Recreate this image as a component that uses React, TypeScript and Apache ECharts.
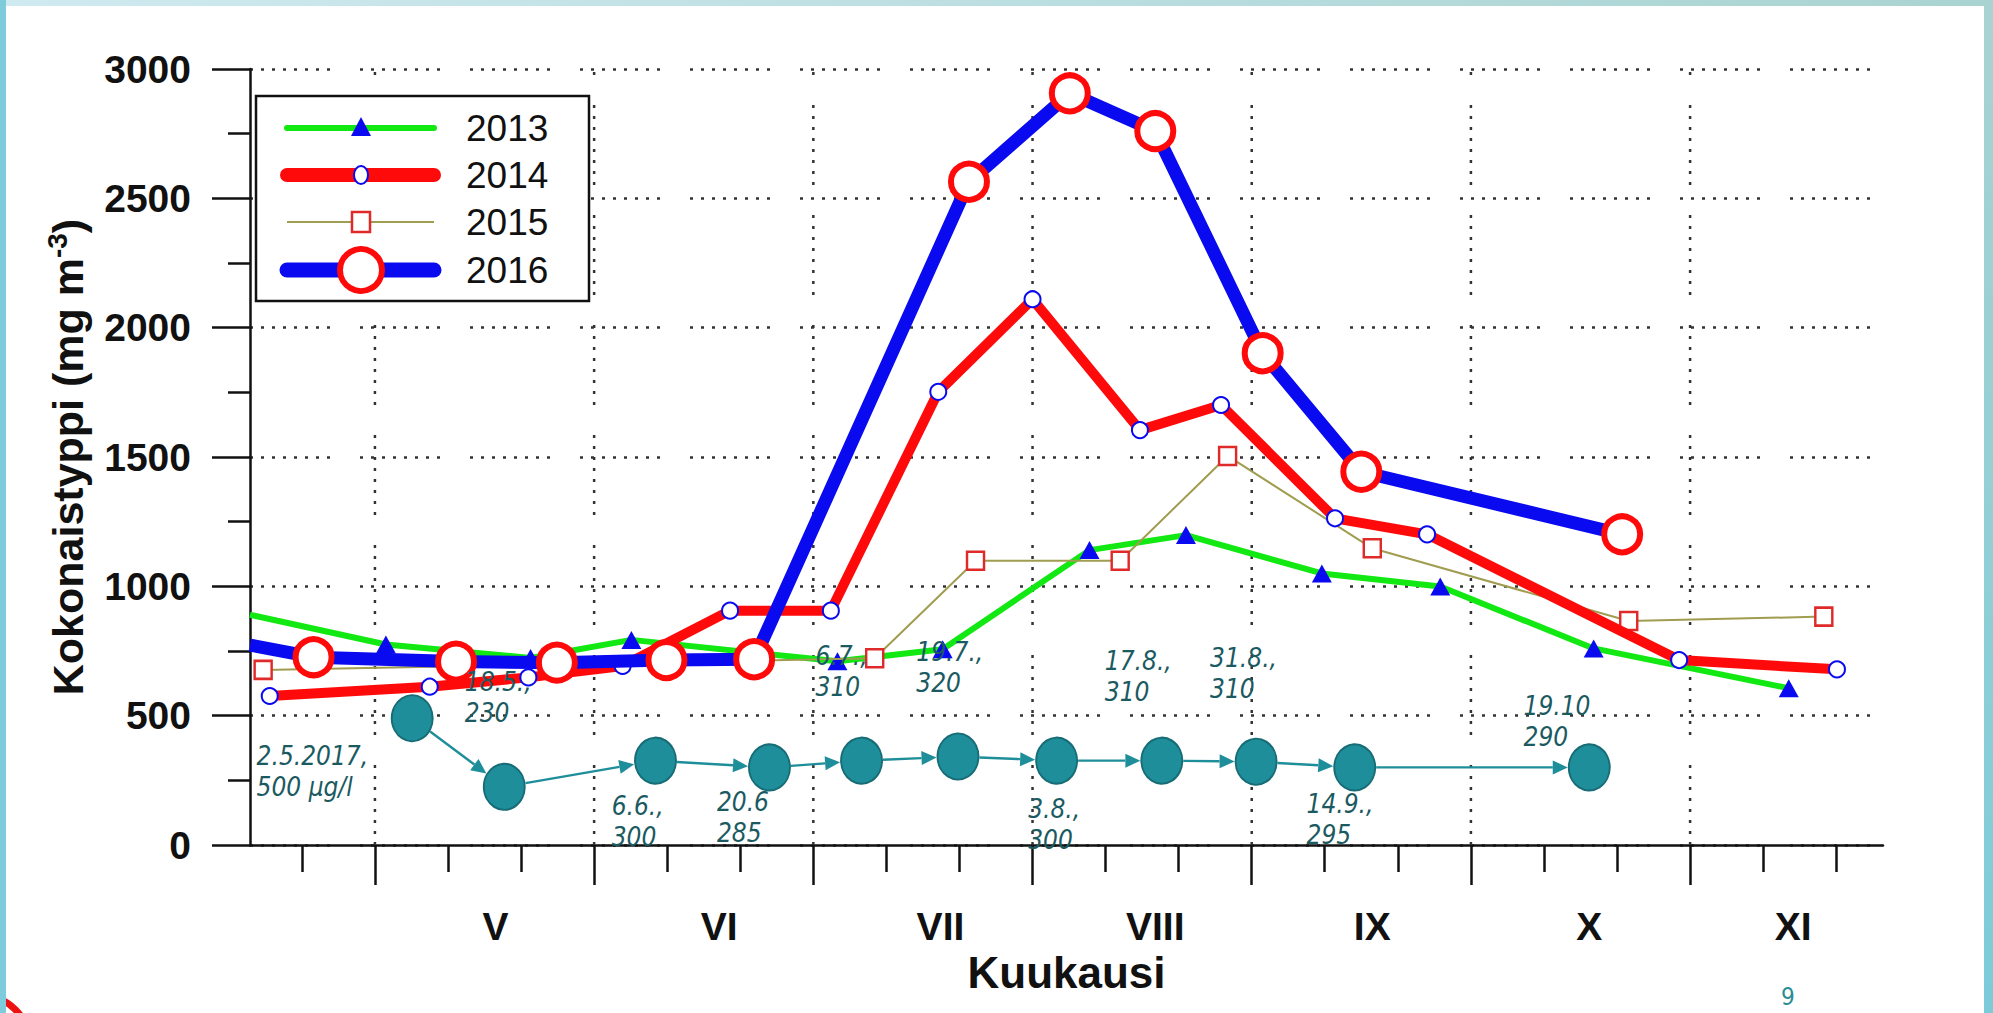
import React, { useEffect, useRef } from 'react';
import * as echarts from 'echarts';

const W = 1993;
const H = 1013;
const SANS = '"Liberation Sans", Arial, Helvetica, sans-serif';
const NARROW = '"Liberation Sans Narrow", "DejaVu Sans Condensed", "Noto Sans", sans-serif';

// x axis in "month units": 5 = 1 May, 6 = 1 June, ...
const X_MIN = 4.43;
const X_MAX = 11.88;
const monthStarts = [5, 6, 7, 8, 9, 10, 11];
const monthLabels = ['V', 'VI', 'VII', 'VIII', 'IX', 'X', 'XI'];
const monthLabelPos = [5.55, 6.57, 7.58, 8.56, 9.55, 10.54, 11.47];
const minorTicks = [4.667, 5.333, 5.667, 6.333, 6.667, 7.333, 7.667, 8.333, 8.667, 9.333, 9.667, 10.333, 10.667, 11.333, 11.667];

const Y_MIN = 0;
const Y_MAX = 3000;
const Y_INTERVAL = 500;

// series [month, value]
const s2013 = [[4.43, 890], [5.05, 775], [5.71, 723], [6.17, 793], [7.11, 710], [7.59, 757], [8.26, 1140], [8.70, 1198], [9.32, 1050], [9.86, 999], [10.56, 760], [11.45, 606]];
const s2014 = [[4.52, 576], [5.25, 612], [5.70, 648], [6.13, 692], [6.62, 906], [7.08, 906], [7.57, 1752], [8.00, 2110], [8.49, 1604], [8.86, 1701], [9.38, 1263], [9.80, 1201], [10.95, 715], [11.67, 679]];
const s2015 = [[4.49, 677], [7.28, 722], [7.74, 1099], [8.40, 1099], [8.89, 1504], [9.55, 1147], [10.72, 866], [11.61, 883]];
const s2016 = [[4.43, 773], [4.72, 726], [5.37, 709], [5.83, 705], [6.33, 715], [6.73, 718], [7.71, 2564], [8.17, 2906], [8.56, 2760], [9.05, 1901], [9.50, 1443], [10.69, 1201]];
// 2017 measurements (teal bubbles)
const s2017 = [[5.17, 490], [5.59, 225], [6.28, 326], [6.80, 300], [7.22, 326], [7.66, 342], [8.11, 326], [8.59, 326], [9.02, 322], [9.47, 300], [10.54, 300]];
// annotation texts, anchored at their top-left corner in data units
const noteX = [4.46, 5.41, 6.08, 6.56, 7.01, 7.47, 8.33, 8.81, 7.98, 9.25, 10.24];
const noteY = [405, 690, 210, 225, 790, 806, 770, 782, 198, 217, 598];
const noteText = ['2.5.2017,\n500 µg/l', '18.5.,\n230', '6.6.,\n300', '20.6\n285', '6.7.,\n310', '19.7.,\n320', '17.8.,\n310', '31.8.,\n310', '3.8.,\n300', '14.9.,\n295', '19.10\n290'];

const legendNames = ['2013', '2014', '2015', '2016'];

const GREEN = '#12e812';
const RED = '#ff0a0a';
const BLUE = '#0a0af0';
const OLIVE = '#a09c50';
const SQ_RED = '#e02a2a';
const TEAL = '#1e8e9a';
const TEAL_DARK = '#176c76';
const NOTE = '#1b5a61';
const DOTS = [3, 8, 3, 8, 3, 8, 3, 8, 3, 8, 3, 8, 3, 8, 3, 30];

const BW = 41; // bubble width
const BH = 46; // bubble height

function ellipseR(ux: number, uy: number) {
  const a = BW / 2 + 1;
  const b = BH / 2 + 1;
  return (a * b) / Math.sqrt((b * ux) * (b * ux) + (a * uy) * (a * uy));
}

function monthLabelFor(v: number) {
  let best = 0;
  let bd = Infinity;
  monthLabelPos.forEach((p, i) => {
    const d = Math.abs(p - v);
    if (d < bd) { bd = d; best = i; }
  });
  return monthLabels[best];
}

export default function App() {
  const ref = useRef<HTMLDivElement>(null);

  useEffect(() => {
    document.body.style.margin = '0';
    document.body.style.overflow = 'hidden';
    const chart = echarts.init(ref.current as HTMLDivElement, null, { renderer: 'svg' });

    const arrows = s2017.slice(0, -1).map((p, i) => [p[0], p[1], s2017[i + 1][0], s2017[i + 1][1]]);
    const notes = noteX.map((x, i) => [x, noteY[i], i]);

    const legendY = [128, 175, 222, 270];
    const lx1 = 287;
    const lx2 = 434;
    const lmx = 361;
    const legendGraphics: any[] = [
      { type: 'rect', shape: { x: 256, y: 96, width: 333, height: 205 }, style: { fill: '#fff', stroke: '#111', lineWidth: 2.5 }, z: 100 },
      // 2013
      { type: 'line', shape: { x1: lx1, y1: legendY[0], x2: lx2, y2: legendY[0] }, style: { stroke: GREEN, lineWidth: 6, lineCap: 'round' }, z: 101 },
      { type: 'polygon', shape: { points: [[lmx, legendY[0] - 11], [lmx - 10, legendY[0] + 8], [lmx + 10, legendY[0] + 8]] }, style: { fill: BLUE }, z: 102 },
      // 2014
      { type: 'line', shape: { x1: lx1, y1: legendY[1], x2: lx2, y2: legendY[1] }, style: { stroke: RED, lineWidth: 14, lineCap: 'round' }, z: 101 },
      { type: 'ellipse', shape: { cx: lmx, cy: legendY[1], rx: 7, ry: 9 }, style: { fill: '#fff', stroke: BLUE, lineWidth: 2 }, z: 102 },
      // 2015
      { type: 'line', shape: { x1: lx1, y1: legendY[2], x2: lx2, y2: legendY[2] }, style: { stroke: OLIVE, lineWidth: 2 }, z: 101 },
      { type: 'rect', shape: { x: lmx - 9, y: legendY[2] - 10, width: 18, height: 20 }, style: { fill: '#fff', stroke: SQ_RED, lineWidth: 2.5 }, z: 102 },
      // 2016
      { type: 'line', shape: { x1: lx1, y1: legendY[3], x2: lx2, y2: legendY[3] }, style: { stroke: BLUE, lineWidth: 15, lineCap: 'round' }, z: 101 },
      { type: 'circle', shape: { cx: lmx, cy: legendY[3], r: 21 }, style: { fill: '#fff', stroke: RED, lineWidth: 6 }, z: 102 },
    ];
    legendNames.forEach((n, i) => {
      legendGraphics.push({
        type: 'text', x: 466, y: legendY[i], z: 103,
        style: { text: n, fill: '#111', fontSize: 37, fontFamily: SANS, align: 'left', verticalAlign: 'middle' },
      });
    });

    const frame: any[] = [
      { type: 'rect', shape: { x: 0, y: 0, width: W, height: 6 }, style: { fill: new echarts.graphic.LinearGradient(0, 0, 1, 0, [{ offset: 0, color: '#cfeaf0' }, { offset: 1, color: '#a9d3d1' }]) }, z: 200 },
      { type: 'rect', shape: { x: 0, y: 0, width: 6, height: H }, style: { fill: '#7ecbdc' }, z: 200 },
      { type: 'rect', shape: { x: 1984, y: 0, width: 9, height: H }, style: { fill: new echarts.graphic.LinearGradient(0, 0, 0, 1, [{ offset: 0, color: '#a9d3d1' }, { offset: 1, color: '#7ccbd9' }]) }, z: 200 },
      { type: 'arc', shape: { cx: -20, cy: 1045, r: 50, startAngle: -Math.PI / 2, endAngle: 0 }, style: { stroke: '#ee1111', lineWidth: 7, fill: 'none' }, z: 199 },
      { type: 'text', x: 1781, y: 985, style: { text: '9', fill: '#2a8c95', fontSize: 24, fontFamily: NARROW, align: 'left', verticalAlign: 'top' }, z: 200 },
    ];

    const option: any = {
      animation: false,
      backgroundColor: '#ffffff',
      grid: { left: 250, right: 110, top: 69, bottom: 168, containLabel: false },
      xAxis: [
        {
          type: 'value', min: X_MIN, max: X_MAX, position: 'bottom',
          axisLine: { show: true, onZero: false, lineStyle: { color: '#111', width: 2.5 } },
          axisTick: { show: true, inside: false, length: 40, customValues: monthStarts, lineStyle: { color: '#111', width: 2.5 } },
          axisLabel: {
            show: true, customValues: monthLabelPos, margin: 62,
            formatter: (v: number) => monthLabelFor(v),
            fontSize: 39, fontWeight: 'bold', color: '#111', fontFamily: SANS,
          },
          splitLine: { show: false },
          name: 'Kuukausi', nameLocation: 'middle', nameGap: 104,
          nameTextStyle: { fontSize: 44, fontWeight: 'bold', color: '#111', fontFamily: SANS },
        },
        {
          type: 'value', min: X_MIN, max: X_MAX, position: 'bottom', offset: 0,
          axisLine: { show: false, onZero: false },
          axisTick: { show: true, inside: false, length: 27, customValues: minorTicks, lineStyle: { color: '#111', width: 2.5 } },
          axisLabel: { show: false },
          splitLine: { show: false },
        },
      ],
      yAxis: {
        type: 'value', min: Y_MIN, max: Y_MAX, interval: Y_INTERVAL,
        axisLine: { show: true, onZero: false, lineStyle: { color: '#111', width: 2.5 } },
        axisTick: { show: true, length: 38, lineStyle: { color: '#111', width: 2.5 } },
        minorTick: { show: true, splitNumber: 2, length: 22, lineStyle: { color: '#111', width: 2.5 } },
        axisLabel: {
          margin: 59, fontSize: 39, fontWeight: 'bold', color: '#111', fontFamily: SANS,
          formatter: (v: number) => String(Math.round(v)),
        },
        splitLine: { show: true, lineStyle: { color: '#333', width: 2.5, type: DOTS } },
        name: 'Kokonaistyppi (mg m{sup|-3})',
        nameLocation: 'middle', nameRotate: 90, nameGap: 157,
        nameTextStyle: {
          fontSize: 43, fontWeight: 'bold', color: '#111', fontFamily: SANS, lineHeight: 50,
          rich: { sup: { fontSize: 28, fontWeight: 'bold', color: '#111', fontFamily: SANS, lineHeight: 28, verticalAlign: 'top' } },
        },
      },
      graphic: [...frame, ...legendGraphics],
      series: [
        {
          name: 'vgrid', type: 'custom', z: 1, silent: true, clip: false,
          data: monthStarts.map((m) => [m]),
          encode: { x: 0 },
          renderItem: (params: any, api: any) => {
            const p1 = api.coord([api.value(0), Y_MIN]);
            const p2 = api.coord([api.value(0), Y_MAX]);
            return { type: 'line', shape: { x1: p1[0], y1: p1[1], x2: p2[0], y2: p2[1] }, style: { stroke: '#333', lineWidth: 2.5, lineDash: DOTS } };
          },
        },
        {
          name: '2013', type: 'line', z: 3,
          data: s2013.map((d, i) => (i === 0 ? { value: d, symbol: 'none' } : { value: d })),
          symbol: 'triangle', symbolSize: [20, 18], showAllSymbol: true,
          lineStyle: { color: GREEN, width: 6 }, itemStyle: { color: BLUE, borderWidth: 0 },
        },
        {
          name: '2015', type: 'line', z: 4,
          data: s2015,
          symbol: 'rect', symbolSize: [17, 18], showAllSymbol: true,
          lineStyle: { color: OLIVE, width: 2 }, itemStyle: { color: '#fff', borderColor: SQ_RED, borderWidth: 2.5 },
        },
        {
          name: '2014', type: 'line', z: 5,
          data: s2014,
          symbol: 'circle', symbolSize: 16, showAllSymbol: true,
          lineStyle: { color: RED, width: 10 }, itemStyle: { color: '#fff', borderColor: BLUE, borderWidth: 2 },
        },
        {
          name: '2016', type: 'line', z: 6,
          data: s2016.map((d, i) => (i === 0 ? { value: d, symbol: 'none' } : { value: d })),
          symbol: 'circle', symbolSize: 36, showAllSymbol: true,
          lineStyle: { color: BLUE, width: 13 }, itemStyle: { color: '#fff', borderColor: RED, borderWidth: 6 },
        },
        {
          name: 'arrows', type: 'custom', z: 7, silent: true, clip: false,
          data: arrows,
          encode: { x: [0, 2], y: [1, 3] },
          renderItem: (params: any, api: any) => {
            const p1 = api.coord([api.value(0), api.value(1)]);
            const p2 = api.coord([api.value(2), api.value(3)]);
            const dx = p2[0] - p1[0];
            const dy = p2[1] - p1[1];
            const len = Math.sqrt(dx * dx + dy * dy) || 1;
            const ux = dx / len;
            const uy = dy / len;
            const r1 = ellipseR(ux, uy);
            const r2 = ellipseR(ux, uy);
            const sx = p1[0] + ux * r1;
            const sy = p1[1] + uy * r1;
            const tx = p2[0] - ux * r2;
            const ty = p2[1] - uy * r2;
            const al = 15;
            const aw = 7;
            const bx = tx - ux * al;
            const by = ty - uy * al;
            const nx = -uy;
            const ny = ux;
            return {
              type: 'group',
              children: [
                { type: 'line', shape: { x1: sx, y1: sy, x2: bx, y2: by }, style: { stroke: TEAL, lineWidth: 2.4 } },
                { type: 'polygon', shape: { points: [[tx, ty], [bx + nx * aw, by + ny * aw], [bx - nx * aw, by - ny * aw]] }, style: { fill: TEAL } },
              ],
            };
          },
        },
        {
          name: '2017', type: 'scatter', z: 8,
          data: s2017,
          symbol: 'circle', symbolSize: [BW, BH],
          itemStyle: { color: TEAL, borderColor: TEAL_DARK, borderWidth: 2, opacity: 1 },
        },
        {
          name: 'notes', type: 'custom', z: 9, silent: true, clip: false,
          data: notes,
          encode: { x: 0, y: 1 },
          renderItem: (params: any, api: any) => {
            const p = api.coord([api.value(0), api.value(1)]);
            return {
              type: 'text', x: p[0], y: p[1],
              style: {
                text: noteText[params.dataIndex], fill: NOTE, fontSize: 26, fontStyle: 'italic',
                fontFamily: NARROW, lineHeight: 31, align: 'left', verticalAlign: 'top',
              },
            };
          },
        },
      ],
    };

    chart.setOption(option);
    return () => {
      chart.dispose();
    };
  }, []);

  return <div ref={ref} style={{ position: 'fixed', left: 0, top: 0, width: W, height: H }} />;
}
